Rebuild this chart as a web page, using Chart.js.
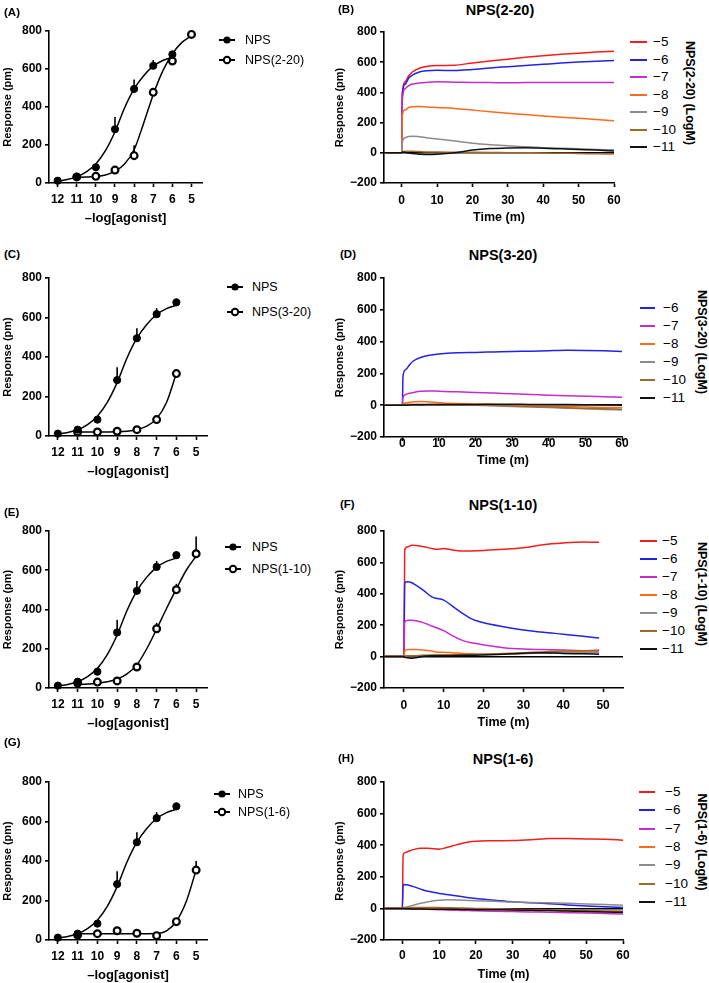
<!DOCTYPE html>
<html>
<head>
<meta charset="utf-8">
<script src="https://cdn.jsdelivr.net/npm/chart.js@4.4.0/dist/chart.umd.min.js"></script>
<style>
  body { margin: 0; background: #fff; width: 709px; height: 983px; position: relative; overflow: hidden;
         font-family: "Liberation Sans", Arial, sans-serif; color: #000; }
  canvas { position: absolute; }
  .abs { position: absolute; white-space: nowrap; line-height: 1; }
  .letter { font-weight: bold; font-size: 11.5px; transform: translateY(-50%); }
  .title { font-weight: bold; font-size: 14.5px; transform: translate(-50%, -50%); }
  .leg { font-size: 12.5px; transform: translateY(-50%); }
  .legc { font-size: 13.5px; transform: translateY(-50%); }
  .rot { font-weight: bold; font-size: 12.5px; transform: translate(-50%, -50%) rotate(90deg); }
</style>
</head>
<body>
<script>
// ---- tick labels ----
const DOSE_TICKS = [12, 11, 10, 9, 8, 7, 6, 5];
const RESP_TICKS = [0, 200, 400, 600, 800];
const TIME_RESP_TICKS = [-200, 0, 200, 400, 600, 800];
const TIME_TICKS_60 = [0, 10, 20, 30, 40, 50, 60];
const TIME_TICKS_50 = [0, 10, 20, 30, 40, 50];

// ---- NPS control (same in A, C, E, G) ----
const NPS_DOSE = [12, 11, 10, 9, 8, 7, 6];
const NPS_RESP = [12, 32, 83, 283, 495, 617, 677];
const NPS_ERR = [0, 8, 0, 65, 50, 30, 18];
const NPS_FIT_DOSE = [12, 11.5, 11, 10.5, 10, 9.5, 9, 8.5, 8, 7.5, 7, 6.5, 6];
const NPS_FIT_RESP = [10, 18, 32, 58, 100, 170, 270, 395, 495, 565, 615, 645, 662];

// ---- (A) NPS(2-20) ----
const A_DOSE = [11, 10, 9, 8, 7, 6, 5];
const A_RESP = [32, 35, 68, 144, 477, 642, 782];
const A_ERR = [0, 0, 0, 55, 10, 10, 0];
const A_FIT_DOSE = [11, 10.5, 10, 9.5, 9, 8.5, 8, 7.5, 7, 6.5, 6, 5.5, 5];
const A_FIT_RESP = [30, 31, 34, 42, 62, 100, 175, 315, 465, 590, 680, 740, 775];

// ---- (C) NPS(3-20) ----
const C_DOSE = [11, 10, 9, 8, 7, 6];
const C_RESP = [20, 20, 24, 32, 83, 316];
const C_ERR = [0, 0, 0, 0, 0, 0];
const C_FIT_DOSE = [11, 10, 9, 8.5, 8, 7.5, 7, 6.5, 6];
const C_FIT_RESP = [20, 20, 21, 24, 32, 50, 88, 170, 318];

// ---- (E) NPS(1-10) ----
const E_DOSE = [11, 10, 9, 8, 7, 6, 5];
const E_RESP = [25, 30, 36, 107, 302, 501, 684];
const E_ERR = [0, 0, 0, 15, 30, 30, 88];
const E_FIT_DOSE = [11, 10.5, 10, 9.5, 9, 8.5, 8, 7.5, 7, 6.5, 6, 5.5, 5];
const E_FIT_RESP = [18, 20, 24, 32, 45, 72, 118, 200, 300, 405, 505, 600, 672];

// ---- (G) NPS(1-6) ----
const G_DOSE = [11, 10, 9, 8, 7, 6, 5];
const G_RESP = [25, 32, 47, 34, 22, 93, 354];
const G_ERR = [0, 0, 0, 0, 0, 15, 46];
const G_FIT_DOSE = [11, 10, 9, 8, 7, 6.5, 6, 5.5, 5];
const G_FIT_RESP = [32, 32, 32, 32, 33, 46, 95, 195, 355];

// ---- time courses ----
const B_LABELS = ["\u22125", "\u22126", "\u22127", "\u22128", "\u22129", "\u221210", "\u221211"];
const B_TIME = [-5, 0, 0.2, 1, 2, 3, 5, 7, 10, 15, 20, 25, 30, 35, 40, 45, 50, 55, 60];
const B_M5  = [0, 0, 400, 470, 510, 535, 560, 572, 578, 580, 595, 608, 620, 632, 642, 652, 660, 667, 672];
const B_M6  = [0, 0, 390, 455, 495, 515, 535, 543, 546, 545, 552, 562, 570, 578, 586, 594, 601, 607, 612];
const B_M7  = [0, 0, 360, 425, 445, 455, 462, 466, 470, 468, 466, 465, 464, 465, 465, 465, 466, 465, 465];
const B_M8  = [0, 0, 250, 285, 300, 305, 306, 304, 300, 294, 283, 272, 262, 253, 244, 236, 228, 220, 212];
const B_M9  = [0, 0, 75, 100, 108, 110, 106, 100, 92, 78, 64, 54, 46, 40, 34, 30, 26, 22, 20];
const B_M10 = [0, 0, 8, 10, 10, 10, 8, 6, 5, 4, 3, 2, 1, 0, -1, -3, -5, -6, -8];
const B_M11 = [0, 0, 5, 2, -2, -5, -9, -12, -10, 0, 18, 28, 32, 33, 30, 26, 22, 18, 12];

const D_LABELS = ["\u22126", "\u22127", "\u22128", "\u22129", "\u221210", "\u221211"];
const D_TIME = [-5, 0, 0.2, 1, 2, 3, 5, 7, 10, 15, 20, 25, 30, 35, 40, 45, 50, 55, 60];
const D_M6  = [0, 0, 185, 225, 255, 278, 300, 312, 322, 330, 332, 335, 338, 340, 343, 345, 344, 342, 338];
const D_M7  = [0, 0, 50, 68, 75, 80, 88, 90, 88, 84, 80, 76, 72, 68, 63, 60, 56, 53, 50];
const D_M8  = [0, 0, 10, 15, 18, 22, 24, 22, 15, 10, 8, 4, 0, -3, -6, -9, -12, -14, -15];
const D_M9  = [0, 0, 3, 4, 5, 5, 5, 5, 4, 2, 0, -4, -8, -12, -15, -19, -23, -27, -30];
const D_M10 = [0, 0, 4, 5, 5, 5, 4, 3, 2, 1, 0, -2, -5, -8, -12, -16, -20, -22, -25];
const D_M11 = [0, 0, 2, 0, 2, 3, 3, 4, 4, 5, 5, 6, 6, 5, 5, 4, 3, 2, 0];

const F_LABELS = B_LABELS;
const F_TIME = [-5, 0, 0.2, 1, 2, 3, 5, 7, 8, 10, 12, 15, 17, 20, 25, 30, 35, 40, 45, 49];
const F_M5  = [0, 0, 680, 700, 710, 708, 700, 688, 684, 688, 680, 672, 673, 676, 683, 693, 713, 724, 730, 728];
const F_M6  = [0, 0, 470, 476, 470, 455, 420, 380, 372, 360, 325, 270, 240, 215, 190, 170, 155, 143, 130, 118];
const F_M7  = [0, 0, 220, 232, 232, 228, 215, 195, 185, 165, 135, 100, 88, 75, 57, 48, 45, 42, 38, 35];
const F_M8  = [0, 0, 35, 45, 45, 45, 42, 35, 30, 28, 25, 20, 18, 15, 15, 20, 25, 28, 35, 40];
const F_M9  = [0, 0, 3, 5, 5, 6, 7, 8, 9, 10, 10, 12, 13, 14, 16, 20, 22, 24, 25, 25];
const F_M10 = [0, 0, 4, 5, 6, 6, 8, 9, 10, 10, 11, 12, 13, 15, 20, 25, 30, 35, 38, 40];
const F_M11 = [0, 0, -5, -8, -10, -8, 2, 5, 5, 5, 6, 8, 8, 10, 15, 22, 25, 20, 18, 15];

const H_LABELS = B_LABELS;
const H_TIME = [-5, 0, 0.2, 1, 2, 3, 5, 7, 10, 12, 15, 18, 20, 25, 30, 35, 40, 45, 50, 55, 60];
const H_M5  = [0, 0, 340, 355, 365, 372, 380, 380, 375, 385, 405, 420, 425, 428, 430, 435, 442, 443, 440, 437, 432];
const H_M6  = [0, 0, 152, 150, 145, 138, 122, 108, 95, 88, 78, 68, 62, 52, 42, 36, 30, 22, 15, 10, 5];
const H_M7  = [0, 0, 3, 2, 0, -2, -4, -6, -8, -10, -12, -14, -15, -18, -20, -22, -25, -27, -29, -32, -35];
const H_M8  = [0, 0, 3, 3, 3, 2, 2, 1, 0, -1, -2, -3, -4, -6, -8, -10, -12, -14, -16, -18, -20];
const H_M9  = [0, 0, 3, 8, 14, 20, 32, 42, 52, 54, 53, 50, 48, 45, 40, 38, 35, 32, 28, 24, 20];
const H_M10 = [0, 0, 2, 3, 4, 5, 5, 5, 5, 4, 3, 1, 0, -2, -5, -7, -9, -11, -14, -16, -18];
const H_M11 = [0, 0, 0, -2, -3, -4, -4, -5, -5, -5, -6, -7, -8, -9, -10, -12, -14, -17, -20, -22, -25];

const CONC_COLORS = {
  "\u22125": "#f21d1d", "\u22126": "#2323e0", "\u22127": "#c42ccc", "\u22128": "#fa6b1c",
  "\u22129": "#8c8c8c", "\u221210": "#9e6a2c", "\u221211": "#111111"
};

Chart.defaults.font.family = '"Liberation Sans", Arial, sans-serif';
Chart.defaults.color = "#000";

// vertical (upward) error bars drawn through the chart scales
const errorBars = {
  id: "errorBars",
  beforeDatasetsDraw(chart) {
    const { ctx, scales: { x, y } } = chart;
    ctx.save();
    ctx.strokeStyle = "#000";
    ctx.lineWidth = 1.6;
    chart.data.datasets.forEach(ds => {
      if (!ds.errors) return;
      ds.data.forEach((p, i) => {
        const e = ds.errors[i];
        if (!e) return;
        const px = x.getPixelForValue(p.x);
        ctx.beginPath();
        ctx.moveTo(px, y.getPixelForValue(p.y));
        ctx.lineTo(px, y.getPixelForValue(p.y + e));
        ctx.stroke();
      });
    });
    ctx.restore();
  }
};

const pts = (xs, ys) => xs.map((v, i) => ({ x: v, y: ys[i] }));
const minus = v => String(v).replace("-", "\u2212");

function addText(cls, str, x, y) {
  const d = document.createElement("div");
  d.className = "abs " + cls;
  d.textContent = str;
  d.style.left = x + "px";
  d.style.top = y + "px";
  document.body.appendChild(d);
  return d;
}

function place(g, hx) {
  const c = document.createElement("canvas");
  const w = g.right - g.L + 14;
  const h = 14 + (g.bottom - g.top) + hx;
  c.width = w; c.height = h;
  c.style.left = g.L + "px"; c.style.top = (g.top - 14) + "px";
  c.style.width = w + "px"; c.style.height = h + "px";
  document.body.appendChild(c);
  return c;
}

function yAxis(width, min, max, tickList, titleX, zeroLine) {
  return {
    type: "linear", min, max,
    afterFit: s => { s.width = width; },
    afterBuildTicks: s => { s.ticks = tickList.map(v => ({ value: v })); },
    border: { color: "#000", width: 1.6 },
    grid: {
      drawOnChartArea: zeroLine,
      color: c => (c.tick && c.tick.value === 0 ? "#000" : "rgba(0,0,0,0)"),
      lineWidth: 1.6, tickColor: "#000", tickLength: 4, tickWidth: 1.6
    },
    ticks: { font: { size: 12, weight: "bold" }, color: "#000", padding: 3, callback: v => minus(v) },
    title: { display: true, text: "Response (pm)", font: { size: 11, weight: "bold" }, color: "#000",
             padding: { top: titleX, bottom: 0 } }
  };
}

function xAxis(height, min, max, tickList, reverse, text, tickPad, titlePad) {
  return {
    type: "linear", min, max, reverse,
    afterFit: s => { s.height = height; },
    afterBuildTicks: s => { s.ticks = tickList.map(v => ({ value: v })); },
    border: { color: "#000", width: 1.6 },
    grid: { drawOnChartArea: false, tickColor: "#000", tickLength: 4, tickWidth: 1.6 },
    ticks: { font: { size: 12, weight: "bold" }, color: "#000", padding: tickPad, maxRotation: 0, autoSkip: false },
    title: { display: true, text, font: { size: text === "Time (m)" ? 12.5 : 13, weight: "bold" }, color: "#000",
             padding: { top: 0, bottom: titlePad } }
  };
}

const baseOptions = {
  responsive: false, animation: false, devicePixelRatio: 1,
  layout: { padding: { top: 14, right: 14, left: 0, bottom: 0 } },
  plugins: { legend: { display: false }, tooltip: { enabled: false } }
};

function doseChart(g, name, dose, resp, err, fitX, fitY, leg) {
  const canvas = place(g, 46);
  new Chart(canvas, {
    type: "line",
    data: {
      datasets: [
        { data: pts(NPS_DOSE, NPS_RESP), errors: NPS_ERR, showLine: false, pointRadius: 3.6,
          pointBackgroundColor: "#000", pointBorderColor: "#000", pointBorderWidth: 1, clip: false },
        { data: pts(dose, resp), errors: err, showLine: false, pointRadius: 3.4,
          pointBackgroundColor: "#fff", pointBorderColor: "#000", pointBorderWidth: 2.2, clip: false },
        { data: pts(NPS_FIT_DOSE, NPS_FIT_RESP), borderColor: "#000", borderWidth: 1.5, pointRadius: 0,
          cubicInterpolationMode: "monotone", clip: false },
        { data: pts(fitX, fitY), borderColor: "#000", borderWidth: 1.5, pointRadius: 0,
          cubicInterpolationMode: "monotone", clip: false }
      ]
    },
    options: Object.assign({}, baseOptions, {
      scales: {
        x: xAxis(46, 4.45, 12.45, DOSE_TICKS, true, "\u2013log[agonist]", 5, 3),
        y: yAxis(49, 0, 800, RESP_TICKS, 1.4, false)
      }
    }),
    plugins: [errorBars]
  });
  addText("letter", g.letter, 4, g.letterY);
  // legend built from the two series
  [["NPS", true], [name, false]].forEach(([lab, filled], i) => {
    const y = leg.rows[i];
    const svg = document.createElementNS("http://www.w3.org/2000/svg", "svg");
    svg.setAttribute("width", "18"); svg.setAttribute("height", "10");
    svg.style.position = "absolute";
    svg.style.left = (leg.mx - 9) + "px"; svg.style.top = (y - 5) + "px";
    svg.innerHTML = '<line x1="1" y1="5" x2="17" y2="5" stroke="#000" stroke-width="2"/>' +
      (filled ? '<circle cx="9" cy="5" r="3.6" fill="#000"/>'
              : '<circle cx="9" cy="5" r="3.2" fill="#fff" stroke="#000" stroke-width="2"/>');
    document.body.appendChild(svg);
    addText("leg", lab, leg.tx, y);
  });
}

function timeChart(g, title, labels, time, series, xmax, xticks, leg) {
  const canvas = place(g, g.hx);
  new Chart(canvas, {
    type: "line",
    data: {
      datasets: series.map((vals, i) => ({
        data: pts(time, vals), borderColor: CONC_COLORS[labels[i]], borderWidth: 1.5,
        pointRadius: 0, cubicInterpolationMode: "monotone", order: -i
      }))
    },
    options: Object.assign({}, baseOptions, {
      scales: {
        x: xAxis(g.hx, -5, xmax, xticks, false, "Time (m)", g.tickPad, 1.5),
        y: yAxis(54, -200, 800, TIME_RESP_TICKS, 3.4, true)
      }
    })
  });
  addText("letter", g.letter, g.letterX, g.letterY);
  addText("title", title, g.titleX, g.letterY);
  labels.forEach((lab, i) => {
    const y = leg.y0 + i * leg.dy;
    const ln = document.createElement("div");
    ln.style.cssText = "position:absolute;height:2px;left:" + leg.x1 + "px;width:" + (leg.x2 - leg.x1) +
      "px;top:" + (y - 1) + "px;background:" + CONC_COLORS[lab];
    document.body.appendChild(ln);
    addText("legc", lab, leg.tx, y);
  });
  addText("rot", title + " (LogM)", leg.rx, leg.ry);
}

// ---- left column: concentration-response ----
doseChart({ L: 0, top: 31, bottom: 183, right: 202, letter: "(A)", letterY: 13 },
  "NPS(2-20)", A_DOSE, A_RESP, A_ERR, A_FIT_DOSE, A_FIT_RESP, { mx: 227, tx: 245, rows: [40, 60] });
doseChart({ L: 0, top: 278, bottom: 436, right: 207, letter: "(C)", letterY: 255 },
  "NPS(3-20)", C_DOSE, C_RESP, C_ERR, C_FIT_DOSE, C_FIT_RESP, { mx: 235, tx: 252, rows: [287, 312] });
doseChart({ L: 0, top: 531, bottom: 688, right: 207, letter: "(E)", letterY: 513 },
  "NPS(1-10)", E_DOSE, E_RESP, E_ERR, E_FIT_DOSE, E_FIT_RESP, { mx: 233, tx: 252, rows: [547, 569] });
doseChart({ L: 0, top: 782, bottom: 940, right: 207, letter: "(G)", letterY: 743 },
  "NPS(1-6)", G_DOSE, G_RESP, G_ERR, G_FIT_DOSE, G_FIT_RESP, { mx: 222, tx: 238, rows: [794, 812] });

// ---- right column: time courses ----
timeChart({ L: 330, top: 32, bottom: 183, right: 614, letter: "(B)", letterX: 338, letterY: 10, titleX: 500, tickPad: 6, hx: 44 },
  "NPS(2-20)", B_LABELS, B_TIME, [B_M5, B_M6, B_M7, B_M8, B_M9, B_M10, B_M11], 60, TIME_TICKS_60,
  { x1: 630, x2: 647, tx: 653, y0: 42, dy: 17.5, rx: 690, ry: 93 });
timeChart({ L: 330, top: 278, bottom: 437, right: 622, letter: "(D)", letterX: 340, letterY: 255, titleX: 503, tickPad: -4.5, hx: 33 },
  "NPS(3-20)", D_LABELS, D_TIME, [D_M6, D_M7, D_M8, D_M9, D_M10, D_M11], 60, TIME_TICKS_60,
  { x1: 640, x2: 655, tx: 663, y0: 308, dy: 18, rx: 702, ry: 342 });
timeChart({ L: 330, top: 531, bottom: 688, right: 623, letter: "(F)", letterX: 340, letterY: 505, titleX: 503, tickPad: 6, hx: 44 },
  "NPS(1-10)", F_LABELS, F_TIME, [F_M5, F_M6, F_M7, F_M8, F_M9, F_M10, F_M11], 55, TIME_TICKS_50,
  { x1: 640, x2: 657, tx: 662, y0: 541, dy: 18, rx: 702, ry: 594 });
timeChart({ L: 330, top: 782, bottom: 940, right: 623, letter: "(H)", letterX: 338, letterY: 759, titleX: 503, tickPad: 4, hx: 44 },
  "NPS(1-6)", H_LABELS, H_TIME, [H_M5, H_M6, H_M7, H_M8, H_M9, H_M10, H_M11], 60, TIME_TICKS_60,
  { x1: 639, x2: 655, tx: 665, y0: 792, dy: 18.3, rx: 702, ry: 842 });
</script>
</body>
</html>
